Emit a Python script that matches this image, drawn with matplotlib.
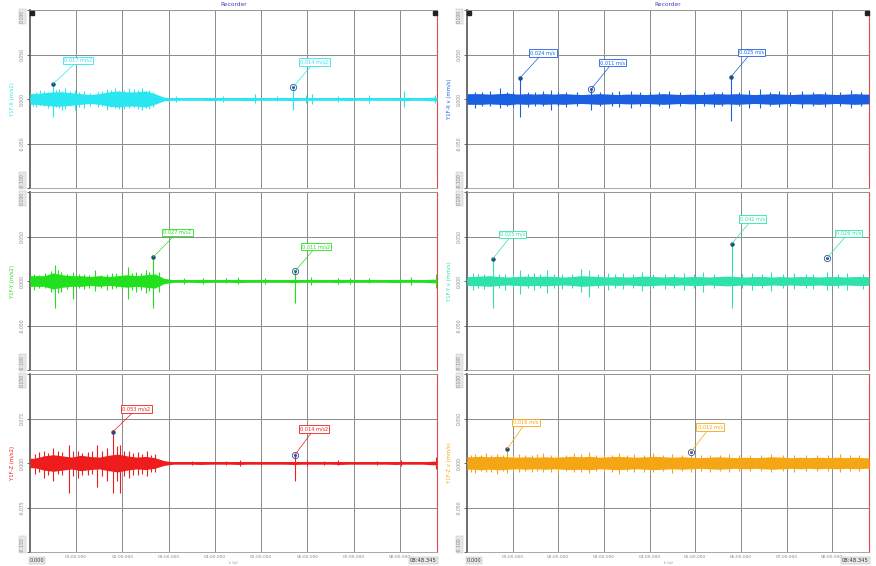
import numpy as np
import matplotlib
matplotlib.use("Agg")
import matplotlib.pyplot as plt

plt.rcParams.update({"font.family": "DejaVu Sans", "font.size": 4})

T_END = 528.345
BIN = 12.0  # envelope bin width (s)

# ---- left panel (acceleration) ----
CYAN_ENV = [0.006, 0.007, 0.008, 0.008, 0.007, 0.006, 0.005, 0.006, 0.008, 0.009, 0.008,
            0.008, 0.009, 0.006, 0.002, 0.0015, 0.0015, 0.0015, 0.0015, 0.0018, 0.0015,
            0.0015, 0.0015, 0.0018, 0.0015, 0.0015, 0.0015, 0.0015, 0.0018, 0.0015, 0.0015,
            0.0015, 0.0015, 0.0015, 0.0018, 0.0015, 0.0015, 0.0015, 0.0015, 0.0015, 0.0018,
            0.0015, 0.0015, 0.002]
CYAN_SPK = [(4, 0.007, -0.008), (8, 0.008, -0.009), (13, 0.01, -0.007), (18, 0.009, -0.008),
            (24, 0.008, -0.01), (30, 0.017, -0.02), (34, 0.01, -0.009), (38, 0.011, -0.01),
            (42, 0.009, -0.012), (46, 0.012, -0.011), (52, 0.009, -0.008), (58, 0.01, -0.012),
            (64, 0.008, -0.009), (70, 0.009, -0.01), (78, 0.007, -0.008), (88, 0.008, -0.009),
            (94, 0.009, -0.008), (100, 0.011, -0.012), (105, 0.01, -0.009), (110, 0.012, -0.01),
            (116, 0.009, -0.011), (122, 0.01, -0.011), (128, 0.012, -0.01), (135, 0.011, -0.009),
            (140, 0.01, -0.011), (145, 0.012, -0.012), (150, 0.009, -0.01), (155, 0.01, -0.011),
            (160, 0.008, -0.009), (190, 0.003, -0.003), (250, 0.003, -0.003), (292, 0.006, -0.005),
            (320, 0.003, -0.002), (342, 0.014, -0.012), (358, 0.004, -0.004), (366, 0.006, -0.006),
            (400, 0.003, -0.003), (440, 0.004, -0.004), (486, 0.009, -0.009), (526, 0.004, -0.004)]
GREEN_ENV = [0.006, 0.006, 0.009, 0.007, 0.006, 0.006, 0.005, 0.006, 0.005, 0.006, 0.007,
             0.006, 0.007, 0.008, 0.003, 0.0015, 0.0015, 0.0015, 0.0018, 0.0015, 0.0015,
             0.0015, 0.0018, 0.0015, 0.0015, 0.0015, 0.0015, 0.0015, 0.0018, 0.0015, 0.0015,
             0.0015, 0.0015, 0.0018, 0.0015, 0.0015, 0.0015, 0.0015, 0.0015, 0.0018, 0.0015,
             0.0015, 0.0015, 0.002]
GREEN_SPK = [(5, 0.008, -0.01), (12, 0.007, -0.008), (20, 0.009, -0.008), (27, 0.011, -0.012),
             (32, 0.018, -0.03), (36, 0.012, -0.014), (40, 0.01, -0.012), (48, 0.008, -0.009),
             (56, 0.01, -0.02), (63, 0.008, -0.008), (70, 0.008, -0.009), (77, 0.007, -0.008),
             (84, 0.012, -0.011), (92, 0.007, -0.008), (100, 0.008, -0.01), (106, 0.009, -0.009),
             (112, 0.009, -0.008), (120, 0.01, -0.009), (127, 0.016, -0.02), (133, 0.009, -0.01),
             (138, 0.01, -0.012), (144, 0.009, -0.01), (150, 0.012, -0.014), (155, 0.01, -0.011),
             (160, 0.027, -0.03), (168, 0.01, -0.012), (200, 0.003, -0.003), (225, 0.003, -0.003),
             (255, 0.003, -0.002), (270, 0.004, -0.003), (305, 0.003, -0.003), (344, 0.011, -0.025),
             (365, 0.004, -0.004), (400, 0.003, -0.003), (415, 0.003, -0.003), (440, 0.003, -0.002),
             (480, 0.004, -0.003), (495, 0.005, -0.004), (527, 0.008, -0.008)]
RED_ENV = [0.008, 0.012, 0.014, 0.012, 0.010, 0.013, 0.011, 0.010, 0.013, 0.015, 0.012,
           0.010, 0.011, 0.009, 0.004, 0.002, 0.002, 0.002, 0.0025, 0.002, 0.002, 0.002,
           0.0025, 0.002, 0.002, 0.002, 0.002, 0.002, 0.0025, 0.002, 0.002, 0.002, 0.002,
           0.0025, 0.002, 0.002, 0.002, 0.002, 0.002, 0.0025, 0.002, 0.002, 0.002, 0.003]
RED_SPK = [(6, 0.015, -0.018), (12, 0.018, -0.016), (18, 0.02, -0.025), (24, 0.017, -0.02),
           (30, 0.025, -0.03), (36, 0.02, -0.018), (42, 0.018, -0.02), (50, 0.03, -0.05),
           (56, 0.02, -0.022), (62, 0.02, -0.025), (68, 0.017, -0.02), (75, 0.018, -0.02),
           (81, 0.02, -0.018), (87, 0.03, -0.04), (94, 0.02, -0.022), (100, 0.025, -0.03),
           (108, 0.053, -0.05), (113, 0.028, -0.03), (117, 0.03, -0.05), (122, 0.02, -0.022),
           (128, 0.02, -0.025), (134, 0.017, -0.02), (140, 0.018, -0.02), (146, 0.016, -0.018),
           (152, 0.02, -0.022), (157, 0.014, -0.016), (162, 0.015, -0.016), (210, 0.004, -0.004),
           (255, 0.004, -0.004), (272, 0.005, -0.005), (300, 0.004, -0.004), (344, 0.014, -0.03),
           (360, 0.005, -0.005), (382, 0.004, -0.004), (400, 0.005, -0.004), (450, 0.004, -0.004),
           (482, 0.005, -0.005), (527, 0.01, -0.01)]

# ---- right panel (velocity) ----
BLUE_ENV = [0.006, 0.006, 0.0055, 0.006, 0.0065, 0.0055, 0.006, 0.0055, 0.006, 0.0055, 0.006,
            0.0055, 0.005, 0.0055, 0.006, 0.0055, 0.005, 0.0055, 0.0055, 0.005, 0.0055, 0.006,
            0.0055, 0.005, 0.0055, 0.005, 0.0055, 0.006, 0.0055, 0.006, 0.0055, 0.005, 0.0055,
            0.006, 0.0055, 0.005, 0.0055, 0.0055, 0.006, 0.0055, 0.005, 0.0055, 0.006, 0.0055]
BLUE_SPK = [(10, 0.008, -0.01), (20, 0.008, -0.008), (30, 0.009, -0.008), (44, 0.012, -0.01),
            (52, 0.008, -0.008), (60, 0.008, -0.009), (70, 0.024, -0.02), (80, 0.008, -0.009),
            (90, 0.008, -0.008), (100, 0.009, -0.008), (110, 0.01, -0.012), (120, 0.008, -0.008),
            (130, 0.008, -0.009), (145, 0.008, -0.008), (163, 0.01, -0.012), (175, 0.008, -0.008),
            (190, 0.008, -0.008), (200, 0.009, -0.009), (215, 0.009, -0.01), (228, 0.008, -0.008),
            (240, 0.008, -0.009), (252, 0.008, -0.008), (265, 0.009, -0.01), (280, 0.008, -0.008),
            (300, 0.01, -0.011), (312, 0.008, -0.008), (325, 0.008, -0.009), (335, 0.008, -0.008),
            (347, 0.025, -0.025), (358, 0.008, -0.008), (370, 0.01, -0.01), (385, 0.011, -0.01),
            (398, 0.008, -0.008), (410, 0.009, -0.009), (425, 0.008, -0.008), (440, 0.009, -0.01),
            (455, 0.008, -0.008), (470, 0.008, -0.009), (490, 0.008, -0.008), (505, 0.01, -0.01),
            (518, 0.008, -0.008)]
TEAL_ENV = [0.005, 0.0055, 0.006, 0.005, 0.0045, 0.005, 0.0055, 0.005, 0.0055, 0.005, 0.0045,
            0.005, 0.006, 0.0055, 0.005, 0.0045, 0.005, 0.0045, 0.005, 0.0055, 0.005, 0.0045,
            0.005, 0.0045, 0.005, 0.005, 0.0045, 0.005, 0.0055, 0.005, 0.0045, 0.005, 0.005,
            0.0045, 0.005, 0.0045, 0.005, 0.005, 0.0045, 0.005, 0.005, 0.0045, 0.005, 0.005]
TEAL_SPK = [(8, 0.009, -0.01), (15, 0.008, -0.008), (22, 0.008, -0.009), (34, 0.022, -0.03),
            (42, 0.008, -0.008), (50, 0.008, -0.01), (60, 0.008, -0.008), (70, 0.012, -0.015),
            (80, 0.008, -0.008), (88, 0.009, -0.01), (96, 0.008, -0.008), (105, 0.012, -0.014),
            (115, 0.008, -0.008), (125, 0.008, -0.009), (138, 0.008, -0.008), (150, 0.014, -0.012),
            (160, 0.012, -0.018), (172, 0.008, -0.008), (185, 0.009, -0.01), (195, 0.008, -0.008),
            (205, 0.009, -0.009), (218, 0.008, -0.008), (230, 0.01, -0.011), (245, 0.008, -0.008),
            (260, 0.008, -0.009), (272, 0.008, -0.008), (285, 0.009, -0.01), (298, 0.008, -0.008),
            (310, 0.01, -0.012), (325, 0.008, -0.008), (348, 0.042, -0.03), (362, 0.008, -0.008),
            (375, 0.009, -0.01), (388, 0.008, -0.008), (400, 0.01, -0.011), (415, 0.008, -0.008),
            (430, 0.009, -0.009), (445, 0.008, -0.008), (455, 0.008, -0.009), (473, 0.01, -0.01),
            (488, 0.008, -0.008), (500, 0.009, -0.01), (520, 0.008, -0.009)]
ORANGE_ENV = [0.007, 0.0075, 0.007, 0.0075, 0.007, 0.0065, 0.007, 0.0065, 0.007, 0.0065, 0.007,
              0.0075, 0.007, 0.0075, 0.0065, 0.007, 0.0075, 0.007, 0.0065, 0.007, 0.0075, 0.007,
              0.0065, 0.007, 0.0065, 0.006, 0.0065, 0.007, 0.0065, 0.006, 0.0065, 0.006, 0.0065,
              0.007, 0.0065, 0.006, 0.0065, 0.006, 0.0065, 0.006, 0.0065, 0.006, 0.0065, 0.006]
ORANGE_SPK = [(5, 0.009, -0.01), (10, 0.01, -0.011), (18, 0.009, -0.009), (25, 0.011, -0.01),
              (32, 0.009, -0.01), (40, 0.01, -0.012), (47, 0.009, -0.009), (53, 0.016, -0.011),
              (60, 0.009, -0.01), (68, 0.01, -0.01), (76, 0.009, -0.009), (85, 0.009, -0.01),
              (92, 0.01, -0.009), (100, 0.011, -0.01), (110, 0.009, -0.01), (120, 0.01, -0.012),
              (130, 0.009, -0.009), (140, 0.011, -0.01), (150, 0.01, -0.01), (160, 0.012, -0.011),
              (170, 0.009, -0.009), (180, 0.01, -0.01), (190, 0.009, -0.01), (200, 0.011, -0.012),
              (210, 0.009, -0.009), (220, 0.01, -0.01), (232, 0.009, -0.01), (245, 0.011, -0.01),
              (258, 0.009, -0.009), (270, 0.01, -0.011), (282, 0.009, -0.009), (294, 0.009, -0.01),
              (307, 0.009, -0.009), (320, 0.009, -0.01), (332, 0.009, -0.009), (345, 0.01, -0.01),
              (358, 0.009, -0.009), (372, 0.009, -0.009), (386, 0.009, -0.009), (400, 0.01, -0.01),
              (415, 0.009, -0.009), (430, 0.009, -0.01), (445, 0.009, -0.009), (460, 0.009, -0.009),
              (475, 0.009, -0.009), (490, 0.01, -0.01), (503, 0.009, -0.009), (515, 0.009, -0.009)]

# annotations: (time, value, marker kind, box offset in px)
CYAN_ANN = [(30, 0.017, "dot", (11, 21)), (342, 0.014, "ring", (7, 22))]
GREEN_ANN = [(160, 0.027, "dot", (10, 22)), (344, 0.011, "ring", (7, 22))]
RED_ANN = [(108, 0.053, "dot", (9, 20)), (344, 0.014, "ring", (5, 23))]
BLUE_ANN = [(70, 0.024, "dot", (10, 22)), (163, 0.011, "ring", (9, 24)), (347, 0.025, "dot", (8, 22))]
TEAL_ANN = [(34, 0.025, "dot", (7, 22)), (348, 0.042, "dot", (8, 22)), (473, 0.026, "ring", (9, 22))]
ORANGE_ANN = [(53, 0.016, "dot", (6, 24)), (294, 0.012, "ring", (7, 23))]

LEFT_ROWS = [
    ("Y1F-X (m/s2)", "#2ae6f0", CYAN_ENV, CYAN_SPK, CYAN_ANN, 0.1, "m/s2"),
    ("Y1F-Y (m/s2)", "#22e01e", GREEN_ENV, GREEN_SPK, GREEN_ANN, 0.1, "m/s2"),
    ("Y1F-Z (m/s2)", "#ee1c1c", RED_ENV, RED_SPK, RED_ANN, 0.15, "m/s2"),
]
RIGHT_ROWS = [
    ("Y1F-X v (mm/s)", "#1a5fe0", BLUE_ENV, BLUE_SPK, BLUE_ANN, 0.1, "m/s"),
    ("Y1F-Y v (mm/s)", "#2ee2aa", TEAL_ENV, TEAL_SPK, TEAL_ANN, 0.1, "m/s"),
    ("Y1F-Z v (mm/s)", "#f5a614", ORANGE_ENV, ORANGE_SPK, ORANGE_ANN, 0.1, "m/s"),
]
XTICKS = [60, 120, 180, 240, 300, 360, 420, 480]
XTICK_LABELS = ["01:00.000", "02:00.000", "03:00.000", "04:00.000",
                "05:00.000", "06:00.000", "07:00.000", "08:00.000"]

W, H = 876, 566
ROW_PX = [(10, 188), (192, 370), (374, 552)]
PX = 0.72  # points per pixel at dpi 100


def draw_row(ax, row, bottom):
    label, col, env, spk, ann, lim, unit = row
    env = np.array(env)
    t = (np.arange(len(env)) + 0.5) * BIN
    t = np.concatenate([[0], t, [T_END]])
    env = np.concatenate([[env[0]], env, [env[-1]]])
    ax.fill_between(t, -env, env, color=col, lw=0, zorder=3)
    ax.plot([0, T_END], [0, 0], color=col, lw=1.3, zorder=3)
    ts = [s[0] for s in spk]
    ax.vlines(ts, [s[2] for s in spk], [s[1] for s in spk], color=col, lw=0.8, zorder=3)
    for tt, v, kind, (dx, dy) in ann:
        if kind == "dot":
            ax.plot(tt, v, "o", ms=2.2, color="#1f4e79", zorder=5)
        else:
            ax.plot(tt, v, "o", ms=4.5, mfc="none", mec="#3050a0", mew=0.6, zorder=5)
            ax.plot(tt, v, "o", ms=1.2, color="#3050a0", zorder=5)
        ax.annotate(f"{v:.3f} {unit}", xy=(tt, v), xytext=(dx * PX, dy * PX),
                    textcoords="offset points", ha="left", va="bottom", fontsize=3.6,
                    color=col, zorder=6,
                    bbox=dict(boxstyle="square,pad=0.25", fc="white", ec=col, lw=0.6),
                    arrowprops=dict(arrowstyle="-", color=col, lw=0.5, shrinkA=0, shrinkB=0))
    ax.set_xlim(0, T_END)
    ax.set_ylim(-lim, lim)
    h = lim / 2
    ax.set_yticks([-lim, -h, 0, h, lim])
    ax.set_yticklabels([f"{-lim:.3f}", f"{-h:.3f}", "0.000", f"{h:.3f}", f"{lim:.3f}"],
                       rotation=90, va="center", fontsize=3.3, color="#888")
    labs = ax.get_yticklabels()
    labs[0].set_va("bottom")
    labs[4].set_va("top")
    for i in (0, 4):
        labs[i].set_bbox(dict(fc="#e8e8e8", ec="#bbb", lw=0.3, pad=0.6))
    ax.set_xticks(XTICKS)
    ax.grid(True, color="#8a8a8a", lw=0.7, zorder=1)
    ax.tick_params(axis="y", length=2, width=0.6, pad=1.5, color="#555")
    ax.tick_params(axis="x", length=0, pad=2)
    ax.set_ylabel(label, color=col, fontsize=3.8, labelpad=4)
    if bottom:
        ax.set_xticklabels(XTICK_LABELS, fontsize=3.2, color="#888")
    else:
        ax.set_xticklabels([])
    for s in ("top", "bottom"):
        ax.spines[s].set_color("#999")
        ax.spines[s].set_linewidth(0.6)
    ax.spines["left"].set_color("#555")
    ax.spines["left"].set_linewidth(1.2)
    ax.spines["right"].set_color("#e04a4a")
    ax.spines["right"].set_linewidth(0.8)


def panel(fig, x0, x1, rows):
    axes = []
    for k, (row, (ya, yb)) in enumerate(zip(rows, ROW_PX)):
        ax = fig.add_axes([x0 / W, 1 - yb / H, (x1 - x0) / W, (yb - ya) / H])
        draw_row(ax, row, k == len(rows) - 1)
        axes.append(ax)
    top = axes[0]
    top.plot([0.006, 0.994], [0.985, 0.985], "s", ms=3, color="#222",
             transform=top.transAxes, clip_on=False, zorder=7)
    fig.text((x0 + x1) / 2 / W, 1 - 5 / H, "Recorder", ha="center", va="center",
             fontsize=4.2, color="#4040c0")
    bot = axes[-1]
    bot.text(0.0, -0.035, "0.000", transform=bot.transAxes, ha="left", va="top",
             fontsize=3.6, color="#333",
             bbox=dict(fc="#e8e8e8", ec="#aaa", lw=0.3, pad=0.6))
    bot.text(1.0, -0.035, "08:48.345", transform=bot.transAxes, ha="right", va="top",
             fontsize=3.8, color="#333",
             bbox=dict(fc="#e8e8e8", ec="#aaa", lw=0.3, pad=0.6))
    fig.text((x0 + x1) / 2 / W, 1 - 563 / H, "t (s)", ha="center", va="center",
             fontsize=3.2, color="#888")


def main():
    fig = plt.figure(figsize=(W / 100, H / 100), dpi=100)
    fig.patch.set_facecolor("white")
    panel(fig, 30, 437, LEFT_ROWS)
    panel(fig, 467, 869, RIGHT_ROWS)
    fig.savefig("out.png", dpi=100, facecolor="white")


if __name__ == "__main__":
    main()
